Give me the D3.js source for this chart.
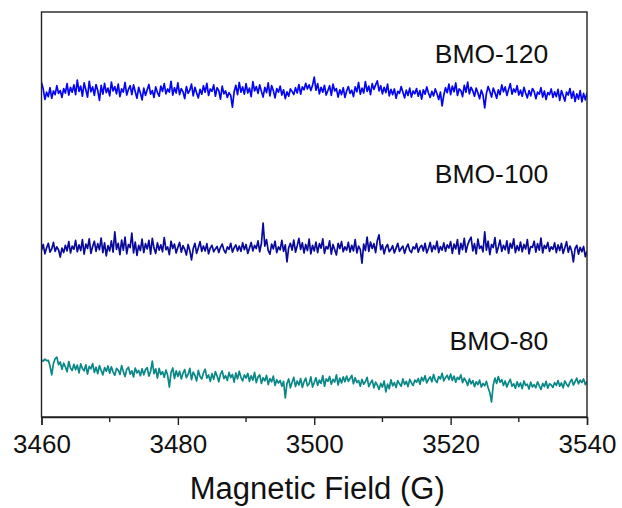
<!DOCTYPE html>
<html>
<head>
<meta charset="utf-8">
<script src="https://cdn.jsdelivr.net/npm/d3@7"></script>
<style>
  html, body { margin: 0; padding: 0; background: #fff; }
  svg { display: block; }
  text { font-family: "Liberation Sans", Arial, Helvetica, sans-serif; fill: #111; }
</style>
</head>
<body>
<svg id="chart" width="622" height="508"></svg>
<script>
// EPR spectra of three BMO samples, stacked with vertical offsets (a.u.)
const fieldStart = 3460;   // G
const fieldStep = 0.25;    // G per sample
const xTicks = [3460, 3480, 3500, 3520, 3540];
const xMinorTicks = [3470, 3490, 3510, 3530];
const seriesNames = ["BMO-120", "BMO-100", "BMO-80"];
const seriesColors = ["#0505f5", "#0a0a9a", "#0a8787"];

const bmo120 = [
  82.6, 81.0, 78.4, 80.2, 79.1, 81.3, 78.7, 80.5, 79.6, 81.8, 79.9, 80.6, 78.9, 81.1, 80.0, 82.3, 79.5, 81.4, 80.2, 82.0,
  79.6, 83.2, 80.4, 81.7, 79.2, 82.5, 80.8, 79.0, 82.9, 80.3, 81.5, 79.4, 82.1, 80.6, 78.2, 81.9, 79.7, 82.4, 80.1, 81.2,
  79.3, 82.7, 80.5, 81.6, 79.8, 82.2, 79.1, 81.0, 80.2, 82.6, 79.5, 80.9, 81.8, 79.6, 82.0, 80.3, 78.7, 81.4, 80.0, 78.3,
  81.2, 79.4, 80.8, 82.1, 79.7, 80.6, 78.9, 81.5, 80.1, 79.2, 81.7, 80.4, 82.3, 79.8, 81.0, 80.2, 82.9, 79.5, 81.3, 80.0,
  82.5, 79.6, 81.1, 80.3, 78.6, 81.6, 79.9, 80.7, 82.2, 79.3, 81.4, 80.0, 78.8, 80.9, 79.7, 81.8, 80.2, 82.4, 79.4, 81.0,
  80.4, 82.0, 79.2, 81.3, 80.6, 78.5, 81.7, 79.8, 80.5, 78.9, 80.1, 79.4, 76.5, 80.3, 81.9, 79.6, 82.6, 80.2, 81.5, 79.7,
  82.3, 80.0, 81.2, 79.1, 82.8, 80.5, 81.6, 79.9, 82.0, 80.4, 79.0, 81.4, 80.1, 82.5, 79.3, 81.8, 80.6, 78.8, 81.1, 80.2,
  81.7, 79.5, 80.8, 78.6, 80.3, 79.2, 81.0, 80.4, 79.6, 81.3, 80.0, 82.1, 79.7, 81.5, 80.8, 82.4, 81.0, 82.0, 80.6, 81.9,
  83.9, 80.7, 82.3, 79.8, 81.4, 80.2, 81.9, 79.5, 80.6, 81.8, 79.4, 82.2, 80.5, 81.1, 79.0, 80.8, 79.6, 81.3, 78.9, 80.5,
  81.6, 79.9, 80.7, 79.1, 81.5, 80.3, 82.6, 79.7, 81.2, 80.0, 82.8, 80.4, 81.7, 79.6, 82.3, 80.9, 82.0, 83.0, 80.5, 81.8,
  79.8, 81.4, 80.1, 82.2, 79.3, 80.9, 79.6, 81.0, 78.7, 80.4, 79.9, 81.6, 80.2, 78.8, 80.7, 79.4, 81.2, 79.0, 80.5, 79.8,
  81.1, 79.2, 80.6, 78.5, 80.8, 79.7, 81.5, 80.0, 78.9, 80.4, 79.3, 81.0, 79.8, 78.4, 80.2, 76.8, 79.5, 81.3, 80.1, 82.2,
  79.6, 81.7, 80.3, 82.5, 79.4, 81.0, 80.6, 79.1, 81.9, 80.2, 82.7, 79.8, 81.4, 80.5, 79.2, 81.2, 80.0, 78.6, 80.7, 79.5,
  76.3, 79.9, 81.6, 80.4, 79.0, 81.2, 80.1, 78.7, 80.8, 79.6, 82.0, 80.3, 81.5, 79.4, 80.9, 82.3, 79.7, 81.0, 80.2, 81.8,
  79.5, 80.7, 79.2, 81.4, 80.0, 78.8, 80.6, 79.3, 81.1, 80.4, 78.6, 80.2, 79.7, 81.3, 79.0, 80.5, 78.4, 80.1, 79.6, 81.0,
  78.9, 80.3, 79.1, 80.9, 78.2, 80.6, 79.4, 78.0, 80.2, 79.5, 81.1, 78.7, 80.4, 77.9, 79.8, 78.5, 80.6, 77.8, 79.9, 78.3,
  80.1
];

const bmo100 = [
  41.2, 42.6, 40.3, 41.8, 42.9, 40.7, 41.5, 43.1, 40.9, 42.0, 41.3, 39.5, 41.7, 40.6, 42.4, 41.0, 43.3, 40.5, 42.2, 41.4,
  43.6, 40.8, 42.5, 41.1, 43.8, 40.2, 42.7, 41.6, 44.0, 40.4, 42.1, 43.4, 40.9, 42.8, 41.3, 44.2, 40.6, 43.0, 39.8, 42.3,
  41.0, 43.5, 40.7, 45.7, 41.4, 42.9, 40.1, 43.7, 41.2, 44.4, 40.3, 42.6, 41.8, 45.4, 40.5, 43.2, 39.9, 42.4, 41.1, 43.9,
  40.6, 42.8, 41.5, 43.6, 40.2, 44.1, 41.7, 40.4, 43.0, 41.2, 42.5, 40.8, 44.3, 41.3, 42.0, 40.1, 43.4, 41.6, 42.7, 40.5,
  41.9, 43.1, 40.7, 42.3, 41.4, 40.0, 42.6, 41.1, 38.8, 41.6, 42.9, 40.4, 41.8, 43.3, 40.9, 42.2, 41.0, 42.8, 40.3, 41.7,
  42.4, 40.8, 41.5, 42.1, 40.6, 41.9, 42.7, 41.2, 40.5, 42.0, 41.4, 42.9, 40.7, 41.8, 42.5, 41.0, 42.2, 40.9, 43.0, 41.3,
  42.6, 40.4, 41.7, 43.1, 41.0, 42.4, 41.6, 43.5, 40.8, 42.9, 47.9, 42.2, 43.8, 41.1, 40.2, 42.7, 41.5, 43.4, 40.6, 42.0,
  41.3, 43.6, 40.9, 42.5, 38.3, 41.8, 42.9, 41.2, 43.7, 40.7, 42.3, 44.1, 41.4, 43.0, 40.5, 42.6, 41.1, 43.9, 40.3, 42.4,
  41.0, 43.2, 40.6, 42.8, 41.7, 44.0, 40.4, 42.1, 41.5, 43.5, 40.2, 42.6, 41.3, 40.0, 42.9, 41.6, 43.3, 40.8, 42.0, 41.2,
  43.1, 40.7, 42.4, 41.0, 43.8, 40.5, 42.2, 41.4, 38.0, 42.7, 41.1, 44.4, 40.9, 43.2, 41.6, 42.8, 40.6, 43.6, 45.0, 41.3,
  42.5, 40.3, 41.9, 42.6, 40.8, 41.4, 42.3, 40.5, 41.7, 42.9, 40.9, 41.6, 42.2, 40.4, 41.8, 42.7, 41.1, 40.6, 42.0, 41.5,
  42.8, 40.7, 41.9, 42.4, 41.0, 42.9, 40.5, 41.6, 43.1, 40.8, 42.3, 41.4, 43.4, 40.6, 42.1, 41.2, 43.0, 40.9, 42.5, 41.7,
  43.3, 40.4, 42.7, 41.5, 43.8, 40.2, 42.9, 41.3, 44.1, 40.7, 42.5, 43.6, 44.4, 41.0, 42.8, 40.3, 43.9, 41.6, 42.2, 40.8,
  45.7, 41.2, 43.4, 40.1, 42.6, 41.8, 44.3, 40.5, 42.0, 43.7, 40.9, 42.4, 41.3, 43.5, 40.4, 42.9, 41.7, 44.0, 40.6, 42.3,
  41.1, 43.2, 40.8, 42.6, 41.5, 43.8, 40.3, 42.1, 41.9, 43.4, 40.7, 42.8, 41.2, 44.2, 40.5, 42.4, 41.6, 43.1, 40.9, 42.0,
  41.4, 43.0, 40.6, 42.5, 41.1, 42.9, 40.4, 41.8, 43.3, 40.7, 42.2, 41.0, 38.3, 41.6, 42.4, 40.2, 41.9, 40.8, 42.1, 39.6,
  40.9
];

const bmo80 = [
  14.1, 13.8, 14.3, 13.9, 14.0, 12.6, 10.4, 13.2, 14.4, 14.8, 12.9, 13.6, 11.8, 13.3, 12.4, 11.2, 13.7, 12.1, 11.5, 13.0,
  11.7, 12.8, 10.9, 13.1, 12.0, 11.4, 12.9, 10.6, 12.5, 11.9, 13.2, 11.0, 12.3, 10.7, 12.7, 11.5, 10.4, 12.2, 11.3, 12.6,
  10.8, 12.4, 11.1, 10.3, 12.0, 11.6, 10.5, 12.7, 11.2, 10.0, 11.8, 12.3, 10.6, 11.4, 9.9, 12.1, 10.9, 11.5, 10.2, 11.9,
  10.4, 11.7, 12.2, 10.1, 11.3, 13.8, 10.7, 11.9, 9.6, 12.0, 10.5, 11.2, 9.8, 11.6, 10.3, 7.4, 11.0, 12.1, 9.5, 11.4,
  10.0, 11.3, 9.4, 10.8, 11.7, 9.7, 10.5, 12.0, 9.2, 11.1, 10.3, 8.9, 11.5, 10.0, 9.4, 10.9, 11.8, 9.6, 10.4, 8.8,
  10.7, 9.3, 11.2, 10.1, 8.7, 10.6, 11.4, 9.5, 10.2, 9.0, 11.0, 9.7, 10.5, 8.6, 10.9, 9.4, 11.3, 9.8, 8.9, 10.4,
  9.6, 10.8, 8.8, 10.2, 9.1, 11.0, 8.5, 9.9, 10.4, 8.3, 9.7, 8.9, 10.3, 8.0, 9.5, 8.7, 10.1, 7.8, 9.2, 8.4,
  9.0, 7.6, 8.8, 4.7, 8.3, 9.4, 7.2, 8.6, 9.8, 7.5, 8.9, 7.9, 9.5, 7.3, 8.7, 9.6, 7.7, 8.2, 9.9, 7.4,
  8.5, 9.7, 7.8, 9.1, 8.3, 10.2, 7.6, 9.4, 8.8, 10.0, 8.1, 9.3, 8.6, 10.4, 7.9, 9.6, 8.4, 9.9, 8.7, 10.1,
  8.8, 9.5, 10.3, 8.2, 9.7, 8.5, 9.0, 7.6, 9.3, 8.1, 8.7, 9.8, 7.5, 8.4, 9.1, 7.2, 8.6, 7.9, 6.8, 8.3,
  7.4, 8.9, 6.2, 8.1, 7.0, 9.2, 7.7, 8.5, 7.3, 9.0, 8.2, 7.6, 9.4, 8.0, 8.8, 7.5, 9.3, 8.4, 7.8, 9.1,
  8.6, 9.5, 8.1, 9.8, 8.9, 10.2, 8.4, 9.3, 9.9, 8.7, 10.5, 9.1, 8.5, 10.0, 9.4, 10.8, 8.9, 9.7, 10.3, 9.2,
  10.6, 9.0, 10.1, 8.6, 9.8, 9.3, 10.4, 8.5, 9.6, 8.9, 7.8, 9.4, 8.2, 9.0, 7.5, 8.7, 8.0, 9.1, 7.4, 8.3,
  7.7, 8.8, 7.2, 6.0, 3.7, 7.9, 9.6, 8.3, 10.0, 8.6, 9.2, 7.8, 8.9, 7.4, 8.5, 9.3, 7.6, 8.2, 7.1, 8.7,
  7.5, 8.4, 7.0, 8.9, 7.8, 8.1, 6.9, 8.6, 7.4, 8.0, 7.2, 8.7, 7.7, 6.8, 8.3, 7.5, 8.8, 7.1, 8.2, 7.9,
  7.3, 8.5, 7.8, 9.0, 7.6, 8.4, 7.2, 8.9, 8.1, 7.5, 8.6, 9.3, 7.9, 8.7, 9.6, 8.2, 9.1, 8.5, 9.4, 8.0,
  8.8
];

// label anchor points: field (G) and intensity (a.u.)
const labelField = [3534.3, 3534.3, 3534.3];
const labelLevel = [87.4, 57.8, 16.5];

const seriesValues = [bmo120, bmo100, bmo80];

const svg = d3.select("#chart");
const margin = { left: 41.5, right: 35, top: 12, bottom: 91 };
const W = 622, H = 508;

const x = d3.scaleLinear()
  .domain([3460, 3540])
  .range([margin.left, W - margin.right]);
const y = d3.scaleLinear()
  .domain([0, 100])
  .range([H - margin.bottom, margin.top]);

// spectra
const line = d3.line()
  .x((d, i) => x(fieldStart + i * fieldStep))
  .y(d => y(d));

const plot = svg.append("g");
plot.append("clipPath").attr("id", "clip")
  .append("rect")
  .attr("x", x(3460)).attr("y", y(100))
  .attr("width", x(3540) - x(3460)).attr("height", y(0) - y(100));

seriesValues.forEach((vals, k) => {
  plot.append("path")
    .datum(vals)
    .attr("clip-path", "url(#clip)")
    .attr("fill", "none")
    .attr("stroke", seriesColors[k])
    .attr("stroke-width", 1.7)
    .attr("stroke-linejoin", "round")
    .attr("d", line);
});

// frame
svg.append("rect")
  .attr("x", x(3460)).attr("y", y(100))
  .attr("width", x(3540) - x(3460)).attr("height", y(0) - y(100))
  .attr("fill", "none")
  .attr("stroke", "#222")
  .attr("stroke-width", 1.4);

// bottom axis with major and minor ticks
const axisG = svg.append("g")
  .attr("transform", `translate(0,${y(0)})`)
  .call(d3.axisBottom(x).tickValues(xTicks).tickFormat(d3.format("d"))
    .tickSize(8).tickPadding(10));
axisG.select(".domain").attr("stroke", "#222").attr("stroke-width", 1.4);
axisG.selectAll(".tick line").attr("stroke", "#222").attr("stroke-width", 1.4);
axisG.selectAll(".tick text")
  .style("font-family", "'Liberation Sans', Arial, sans-serif")
  .style("font-size", "26px")
  .attr("fill", "#111");

svg.append("g")
  .selectAll("line")
  .data(xMinorTicks)
  .join("line")
  .attr("x1", d => x(d)).attr("x2", d => x(d))
  .attr("y1", y(0)).attr("y2", y(0) + 5)
  .attr("stroke", "#222").attr("stroke-width", 1.4);

// axis title
svg.append("text")
  .attr("x", (x(3460) + x(3540)) / 2 + 3)
  .attr("y", 499)
  .attr("text-anchor", "middle")
  .style("font-size", "31px")
  .text("Magnetic Field (G)");

// series labels
svg.append("g")
  .selectAll("text")
  .data(seriesNames)
  .join("text")
  .attr("x", (d, i) => x(labelField[i]))
  .attr("y", (d, i) => y(labelLevel[i]))
  .attr("text-anchor", "end")
  .style("font-size", "26.5px")
  .text(d => d);
</script>
</body>
</html>
